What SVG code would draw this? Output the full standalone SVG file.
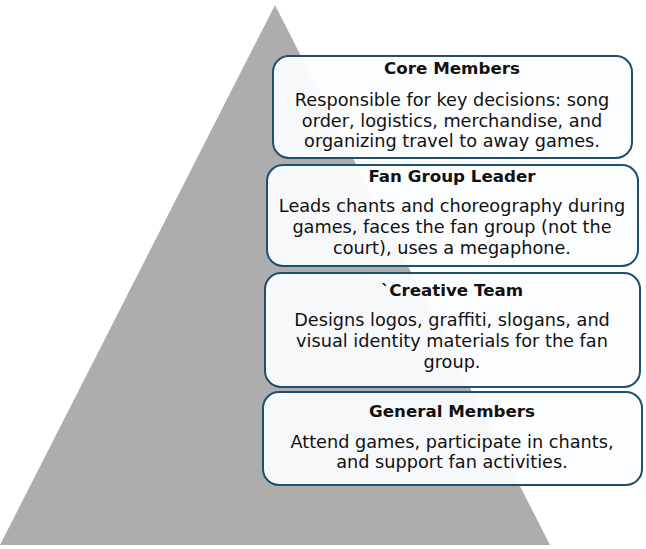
<svg xmlns="http://www.w3.org/2000/svg" width="646" height="549" viewBox="0 0 646 549">
<style>
.box{fill:#fcfdfe;fill-opacity:0.94;stroke:#1f4e6e;stroke-width:2}
.t{font-family:"DejaVu Sans","Open Sans",sans-serif;font-size:16.7px;font-weight:bold;fill:#111;text-anchor:middle}
.b{font-family:"DejaVu Sans","Open Sans",sans-serif;font-size:17.7px;fill:#111;text-anchor:middle}
</style>
<rect width="646" height="549" fill="#fff"/>
<polygon id="pyramid" points="275,5 550,545 0,545" fill="#adadad"/>
<g id="core">
<rect class="box" x="273" y="56" width="359" height="102" rx="16"/>
<text class="t" x="452" y="74">Core Members</text>
<text class="b" x="452" y="106">Responsible for key decisions: song</text>
<text class="b" x="452" y="127">order, logistics, merchandise, and</text>
<text class="b" x="452" y="147">organizing travel to away games.</text>
</g>
<g id="leader">
<rect class="box" x="267" y="165" width="371" height="101" rx="16"/>
<text class="t" x="452" y="182">Fan Group Leader</text>
<text class="b" x="452" y="212">Leads chants and choreography during</text>
<text class="b" x="452" y="233">games, faces the fan group (not the</text>
<text class="b" x="452" y="254">court), uses a megaphone.</text>
</g>
<g id="creative">
<rect class="box" x="265" y="273" width="375" height="114" rx="16"/>
<text class="t" x="452" y="296">`Creative Team</text>
<text class="b" x="452" y="326">Designs logos, graffiti, slogans, and</text>
<text class="b" x="452" y="347">visual identity materials for the fan</text>
<text class="b" x="452" y="368">group.</text>
</g>
<g id="general">
<rect class="box" x="263" y="392" width="379" height="93" rx="16"/>
<text class="t" x="452" y="417">General Members</text>
<text class="b" x="452" y="448">Attend games, participate in chants,</text>
<text class="b" x="452" y="468">and support fan activities.</text>
</g>
<g id="connectors"></g>
</svg>
